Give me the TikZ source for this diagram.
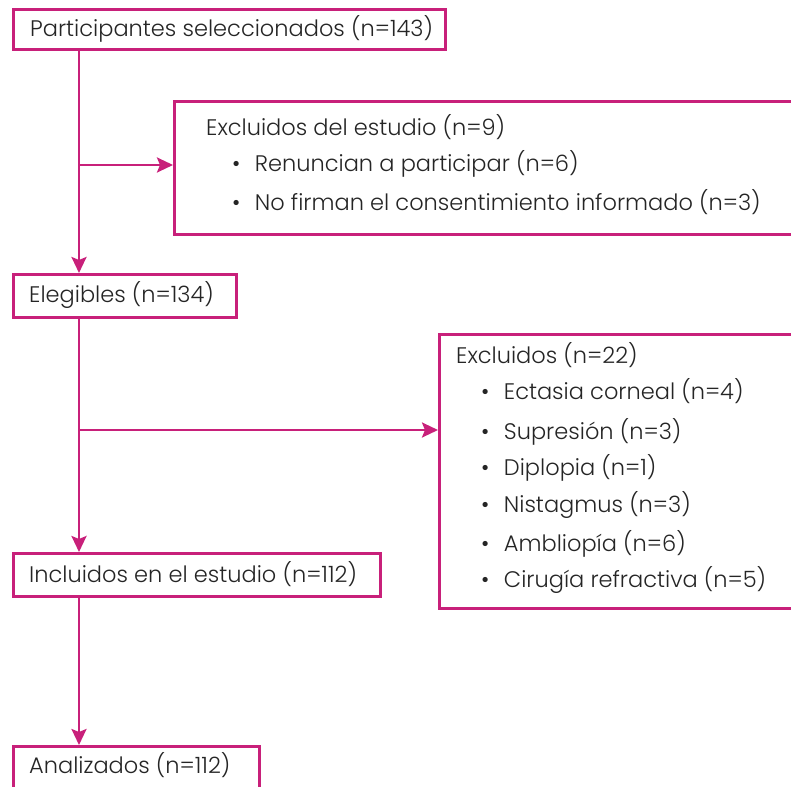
\documentclass[tikz,border=0pt]{standalone}
\usepackage{fontspec}
\setmainfont{Poppins Light}
\usetikzlibrary{arrows.meta}
\definecolor{mag}{HTML}{C8207A}
\definecolor{txt}{HTML}{252525}
\begin{document}
\begin{tikzpicture}[x=1pt,y=-1pt,
  box/.style={draw=mag,line width=2.6pt,rectangle,inner sep=0pt,anchor=north west},
  lbl/.style={anchor=base west,inner sep=0pt,text=txt,font=\fontsize{22.5}{24}\selectfont},
  conn/.style={draw=mag,line width=2.6pt,-{Stealth[length=16pt,width=15pt,inset=3pt]}},
  seg/.style={draw=mag,line width=2.6pt}]
\useasboundingbox (0,0) rectangle (791,786);
\clip (0,0) rectangle (791,786);
% boxes
\node[box,minimum width=432pt,minimum height=40pt] (b1) at (12,8) {};
\node[box,minimum width=640pt,minimum height=133pt] (b2) at (173,100) {};
\node[box,minimum width=223pt,minimum height=43pt] (b3) at (12,273) {};
\node[box,minimum width=380pt,minimum height=274pt] (b4) at (438,333) {};
\node[box,minimum width=367pt,minimum height=43pt] (b5) at (12,552) {};
\node[box,minimum width=246pt,minimum height=60pt] (b6) at (12,745) {};
% texts
\node[lbl] (t1) at (30,37) {Participantes seleccionados (n=143)};
\node[lbl] (t2) at (206,136) {Excluidos del estudio (n=9)};
\node[lbl] (t2a) at (232,172) {•\hspace{14.5pt}Renuncian a participar (n=6)};
\node[lbl] (t2b) at (232,211) {•\hspace{14.5pt}No firman el consentimiento informado (n=3)};
\node[lbl] (t3) at (29,302) {Elegibles (n=134)};
\node[lbl] (t4) at (456,363) {Excluidos (n=22)};
\node[lbl] (t4a) at (481,399) {•\hspace{14.5pt}Ectasia corneal (n=4)};
\node[lbl] (t4b) at (481,439) {•\hspace{14.5pt}Supresión (n=3)};
\node[lbl] (t4c) at (481,475) {•\hspace{14.5pt}Diplopia (n=1)};
\node[lbl] (t4d) at (481,512) {•\hspace{14.5pt}Nistagmus (n=3)};
\node[lbl] (t4e) at (481,551) {•\hspace{14.5pt}Ambliopía (n=6)};
\node[lbl] (t4f) at (481,587) {•\hspace{14.5pt}Cirugía refractiva (n=5)};
\node[lbl] (t5) at (29,582) {Incluidos en el estudio (n=112)};
\node[lbl] (t6) at (29,773) {Analizados (n=112)};
% connectors
\coordinate (j1) at (79,165);
\coordinate (j2) at (79,430);
\draw[conn] (b1.south -| j1) -- (b3.north -| j1);
\draw[conn] (j1) -- (b2.west |- j1);
\draw[conn] (b3.south -| j2) -- (b5.north -| j2);
\draw[conn] (j2) -- (b4.west |- j2);
\draw[conn] (b5.south -| j2) -- (b6.north -| j2);
\end{tikzpicture}
\end{document}
